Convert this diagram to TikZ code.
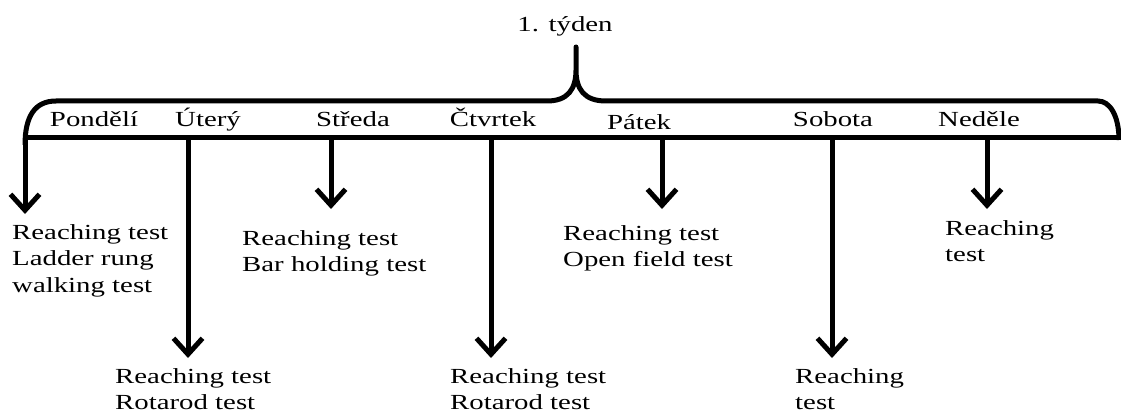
\documentclass[tikz,border=0pt]{standalone}
\usepackage{fontspec}
\setmainfont{Liberation Serif}[FakeStretch=1.34]
\usetikzlibrary{arrows.meta}
\begin{document}
\begin{tikzpicture}[x=1pt,y=-1pt,
  bar/.style={line width=5pt,line join=round},
  arr/.style={line width=5pt,-{Straight Barb[length=16pt,width=29pt]}},
  lbl/.style={font=\fontsize{21.5}{26.5}\selectfont, inner sep=0pt, anchor=base},
  res/.style={font=\fontsize{21.5}{26.5}\selectfont, inner sep=0pt, anchor=north west, align=left},
]
\useasboundingbox (0,0) rectangle (1121,414);
% title
\node[lbl] (title) at (565,32) {1. týden};
% brace
\coordinate (cusp) at (576,47);
\draw[bar] (25,145) .. controls (25,116) and (35,101) .. (56,101) -- (547,101)
  .. controls (568,101) and (576,89) .. (576,70) -- (cusp) -- (576,70)
  .. controls (576,89) and (584,101) .. (606,101) -- (1098,101)
  .. controls (1110,101) and (1119,116) .. (1119,140);
\draw[bar] (25,138) -- (1125,138);
% day labels
\node[lbl] (po) at (94,127) {Pondělí};
\node[lbl] (ut) at (208,127) {Úterý};
\node[lbl] (st) at (353,127) {Středa};
\node[lbl] (ct) at (493,127) {Čtvrtek};
\node[lbl] (pa) at (639,130) {Pátek};
\node[lbl] (so) at (833,127) {Sobota};
\node[lbl] (ne) at (979,127) {Neděle};
% branch points on the bar
\coordinate (b-po) at (25,140);
\coordinate (b-ut) at (188,138);
\coordinate (b-st) at (331,138);
\coordinate (b-ct) at (491,138);
\coordinate (b-pa) at (662,138);
\coordinate (b-so) at (832,138);
\coordinate (b-ne) at (987,138);
% arrow tips
\coordinate (e-po) at (25,214);
\coordinate (e-ut) at (188,358);
\coordinate (e-st) at (331,209);
\coordinate (e-ct) at (491,358);
\coordinate (e-pa) at (662,209);
\coordinate (e-so) at (832,358);
\coordinate (e-ne) at (987,209);
\foreach \d in {po,ut,st,ct,pa,so,ne} \draw[arr] (b-\d) -- (e-\d);
% results
\node[res] (r-po) at (12,224) {Reaching test\\Ladder rung\\walking test};
\node[res] (r-ut) at (115,368) {Reaching test\\Rotarod test};
\node[res] (r-st) at (242,230) {Reaching test\\Bar holding test};
\node[res] (r-ct) at (450,368) {Reaching test\\Rotarod test};
\node[res] (r-pa) at (563,225) {Reaching test\\Open field test};
\node[res] (r-so) at (795,368) {Reaching\\test};
\node[res] (r-ne) at (945,220) {Reaching\\test};
\end{tikzpicture}
\end{document}
